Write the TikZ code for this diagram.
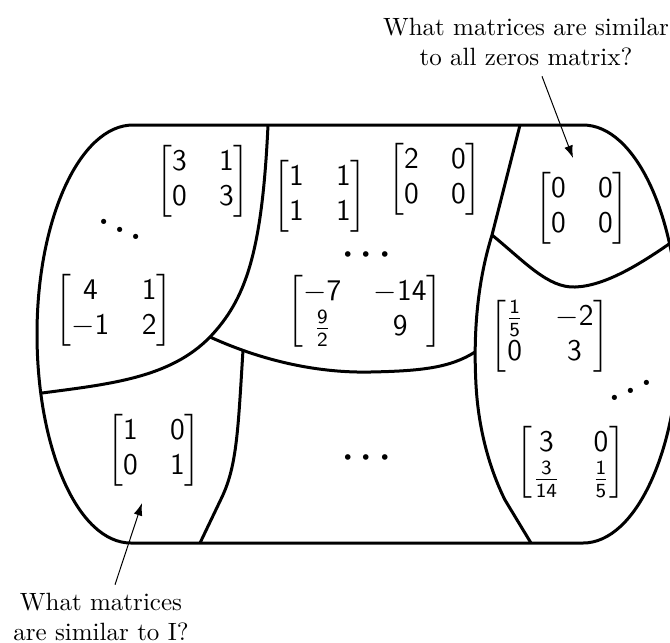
\documentclass[tikz,border=0pt]{standalone}
\usepackage{amsmath}
\usepackage{graphicx}
\usetikzlibrary{arrows.meta, calc}

% sans digits in the matrices
\DeclareSymbolFont{sfdigits}{OT1}{cmss}{m}{n}
\DeclareMathSymbol{0}{\mathalpha}{sfdigits}{"30}
\DeclareMathSymbol{1}{\mathalpha}{sfdigits}{"31}
\DeclareMathSymbol{2}{\mathalpha}{sfdigits}{"32}
\DeclareMathSymbol{3}{\mathalpha}{sfdigits}{"33}
\DeclareMathSymbol{4}{\mathalpha}{sfdigits}{"34}
\DeclareMathSymbol{5}{\mathalpha}{sfdigits}{"35}
\DeclareMathSymbol{6}{\mathalpha}{sfdigits}{"36}
\DeclareMathSymbol{7}{\mathalpha}{sfdigits}{"37}
\DeclareMathSymbol{8}{\mathalpha}{sfdigits}{"38}
\DeclareMathSymbol{9}{\mathalpha}{sfdigits}{"39}

\newcommand{\smat}[1]{$\begin{bmatrix}#1\end{bmatrix}$}

\begin{document}
\begin{tikzpicture}[
    x=0.4pt, y=-0.4pt,
    >={Latex[length=5pt, width=3.5pt]},
    % --- styles ---
    region/.style={line width=1.2pt, line join=round},
    mtx/.style={inner sep=0pt, font=\large\setlength{\arraycolsep}{6.5pt}},
    dotsnode/.style={inner sep=0pt, font=\Large\bfseries\boldmath},
    note/.style={align=center, inner sep=0pt},
    arr/.style={->, thin},
]

\useasboundingbox (0,0) rectangle (670,642);

% ===== OUTLINE ==============================================================
\draw[region] (133,125) -- (583,125)
    .. controls (636,125) and (679,219) .. (679,334)
    .. controls (679,449) and (636,543) .. (583,543)
    -- (131,543)
    .. controls (78,543) and (37,449) .. (37,334)
    .. controls (37,219) and (80,125) .. (133,125) -- cycle;

% ===== CLASS BOUNDARIES =====================================================
% -- upper left class --
\draw[region] (268,125) .. controls (262,255) and (245,300) .. (210,337)
    .. controls (170,378) and (110,384) .. (42,393);
% -- middle class, lower edge --
\draw[region] (210,337) .. controls (265,362) and (320,373) .. (370,372)
    .. controls (420,371) and (450,368) .. (475,352);
% -- identity class, right edge --
\draw[region] (243,350) .. controls (238,430) and (237,465) .. (222,497)
    -- (200,543);
% -- right column --
\draw[region] (520,125) -- (492,235)
    .. controls (478,280) and (473,330) .. (476,385)
    .. controls (479,440) and (495,480) .. (505,500)
    -- (531,543);
% -- zero class, lower edge --
\draw[region] (492,235) .. controls (525,262) and (548,288) .. (575,287)
    .. controls (605,286) and (640,264) .. (669,244);

% ===== MATRICES =============================================================
\node[mtx] (mA) at (203,181) {\smat{3 & 1\\ 0 & 3}};
\node[mtx] (mB) at (114,310) {\smat{4 & 1\\ -1 & 2}};
\node[mtx] (mC) at (320,196) {\smat{1 & 1\\ 1 & 1}};
\node[mtx] (mD) at (435,179) {\smat{2 & 0\\ 0 & 0}};
\node[mtx] (mE) at (365,311) {\smat{-7 & -14\\ \frac{9}{2} & 9}};
\node[mtx] (mzero) at (582,208) {\smat{0 & 0\\ 0 & 0}};
\node[mtx] (mF) at (550,336) {\smat{\frac{1}{5} & -2\\ 0 & 3}};
\node[mtx] (mG) at (571,462) {\smat{3 & 0\\ \frac{3}{14} & \frac{1}{5}}};
\node[mtx] (mident) at (154,450) {\smat{1 & 0\\ 0 & 1}};

% -- dots --
\node[dotsnode] (dA) at (120,222) {$\ddots$};
\node[dotsnode] (dC) at (370,255) {$\cdots$};
\node[dotsnode] (dF) at (631,383) {\reflectbox{$\ddots$}};
\node[dotsnode] (dH) at (370,458) {$\cdots$};

% ===== QUESTIONS ============================================================
\node[note] (qzero) at (526,42)
    {What matrices are similar\\to all zeros matrix?};
\node[note] (qident) at (101,617)
    {What matrices\\are similar to I?};

\coordinate (zerotip) at (573,158);
\coordinate (identtip) at (142,503);

\draw[arr] ($(qzero.south)+(16,10)$) -- (zerotip);
\draw[arr] ($(qident.north)+(14,-8)$) -- (identtip);

\end{tikzpicture}
\end{document}
